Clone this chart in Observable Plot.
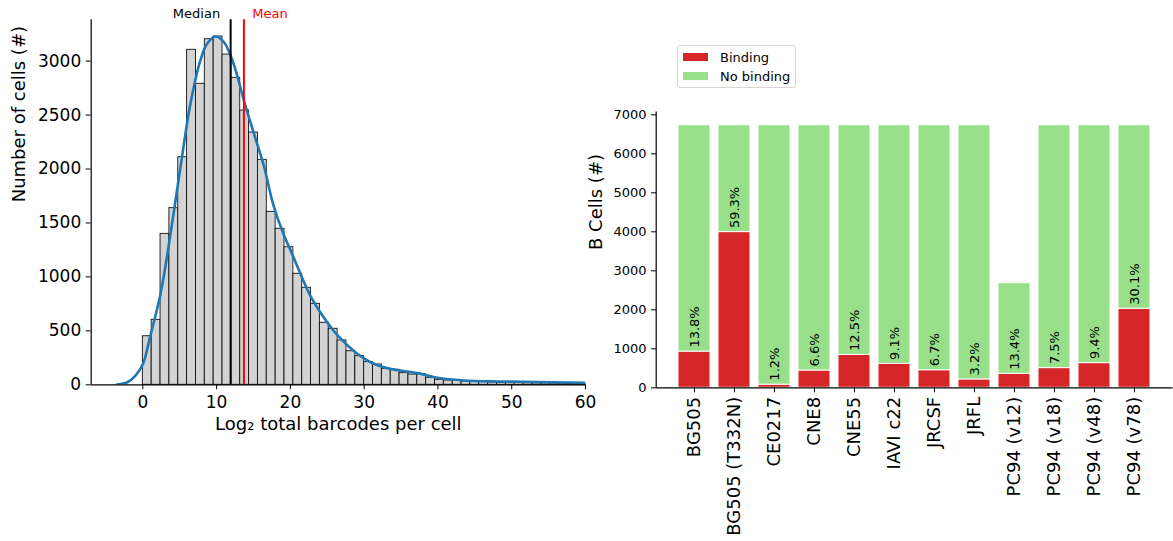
<!DOCTYPE html>
<html><head><meta charset="utf-8">
<script src="https://cdn.jsdelivr.net/npm/d3@7"></script>
<script src="https://cdn.jsdelivr.net/npm/@observablehq/plot@0.6"></script>
<style>
body{margin:0;background:#fff;font-family:"DejaVu Sans",sans-serif;}
#wrap{position:relative;width:1173px;height:541px;overflow:hidden;background:#fff;}
#left{position:absolute;left:0;top:0;}
#right{position:absolute;left:575px;top:0;}
#legend{position:absolute;left:677px;top:45px;width:119px;height:43px;border:1px solid #d5d5d5;border-radius:3px;background:rgba(255,255,255,0.85);font-size:13px;box-sizing:border-box;color:#000;}
.item{position:absolute;left:5px;height:18px;display:flex;align-items:center;white-space:nowrap;}
.sw{width:25px;height:8px;margin-right:12px;flex:none;}
</style></head><body>
<div id="wrap">
  <div id="left"></div>
  <div id="right"></div>
  <div id="legend">
    <div class="item" style="top:2px"><span class="sw" style="background:#d62728"></span>Binding</div>
    <div class="item" style="top:21px"><span class="sw" style="background:#98df8a"></span>No binding</div>
  </div>
</div>
<script>
// ---------- Left: histogram of log2 total barcodes per cell ----------
const binStart = 0;
const binWidth = 1.2;
const binCounts = [450, 602, 1399, 1637, 2109, 3105, 2790, 3203, 3228, 3061,
  2845, 2542, 2338, 2085, 1603, 1446, 1275, 1029, 899, 751,
  575, 519, 411, 311, 265, 210, 188, 148, 139, 108,
  95, 98, 65, 46, 40, 37, 31, 28, 25, 22,
  19, 19, 16, 15, 14, 13, 12, 11, 10, 10];
const kdeX = [-3.5, -2.1, -1.0, 0, 1.0, 2.4, 3.75, 5.1, 6.45, 7.8, 8.7, 9.85, 11.0, 12.3, 13.7, 15.0, 16.4, 17.7, 19.1, 20.0, 21.6, 22.8, 24.5, 26.4, 28.8, 31.3, 33.5, 37.2, 39.9, 43.5, 48.0, 51.6, 60];
const kdeY = [3, 24, 86, 190, 450, 843, 1399, 2017, 2604, 3006, 3160, 3228, 3175, 2975, 2635, 2341, 2030, 1665, 1390, 1250, 990, 812, 626, 457, 302, 195, 148, 108, 65, 40, 31, 28, 19];
const medianVal = 11.9;
const meanVal = 13.7;
const histXTicks = [0, 10, 20, 30, 40, 50, 60];
const histYTicks = [0, 500, 1000, 1500, 2000, 2500, 3000];

// ---------- Right: stacked bars of B cells ----------
const strains = ["BG505", "BG505 (T332N)", "CE0217", "CNE8", "CNE55", "IAVI c22", "JRCSF", "JRFL", "PC94 (v12)", "PC94 (v18)", "PC94 (v48)", "PC94 (v78)"];
const totalCells = [6733, 6733, 6733, 6733, 6733, 6733, 6733, 6733, 2682, 6733, 6733, 6733];
const bindingCells = [929, 3993, 81, 444, 842, 613, 451, 215, 359, 505, 633, 2027];
const barYTicks = [0, 1000, 2000, 3000, 4000, 5000, 6000, 7000];

const bins = binCounts.map((c, i) => ({x1: binStart + i * binWidth, x2: binStart + (i + 1) * binWidth, count: c}));
const kde = kdeX.map((x, i) => ({x, y: kdeY[i]}));
const bars = strains.map((s, i) => ({
  strain: s, total: totalCells[i], binding: bindingCells[i],
  pct: (bindingCells[i] / totalCells[i] * 100).toFixed(1) + "%"
}));

const font = "DejaVu Sans";

const left = Plot.plot({
  width: 600, height: 450,
  marginLeft: 90.7, marginRight: 15, marginTop: 19.3, marginBottom: 65.7,
  style: {fontFamily: font, background: "transparent", color: "black", overflow: "visible"},
  x: {domain: [-7, 60]},
  y: {domain: [0, 3383]},
  marks: [
    Plot.rectY(bins, {x1: "x1", x2: "x2", y: "count", fill: "#d3d3d3", stroke: "#111", strokeWidth: 0.9}),
    Plot.line(kde, {x: "x", y: "y", stroke: "#1f77b4", strokeWidth: 2.6, curve: "catmull-rom", clip: true}),
    Plot.ruleX([medianVal], {stroke: "black", strokeWidth: 2}),
    Plot.ruleX([meanVal], {stroke: "red", strokeWidth: 2}),
    Plot.text([{x: medianVal, t: "Median"}], {x: "x", text: "t", frameAnchor: "top", lineAnchor: "bottom", textAnchor: "end", dx: -10.5, dy: -1.5, fontSize: 13, fill: "black"}),
    Plot.text([{x: meanVal, t: "Mean"}], {x: "x", text: "t", frameAnchor: "top", lineAnchor: "bottom", textAnchor: "start", dx: 8.3, dy: -1.5, fontSize: 13, fill: "red"}),
    Plot.ruleX([-7], {stroke: "black", strokeWidth: 1.2}),
    Plot.ruleY([0], {stroke: "black", strokeWidth: 1.2}),
    Plot.axisX({ticks: histXTicks, tickSize: 5, tickPadding: 6, fontSize: 17, label: null, tickFormat: "d"}),
    Plot.axisY({ticks: histYTicks, tickSize: 5, tickPadding: 5, fontSize: 17, label: null, tickFormat: "d"}),
    Plot.text(["Log₂ total barcodes per cell"], {text: d => d, frameAnchor: "bottom", lineAnchor: "bottom", dy: 44.7, fontSize: 18}),
    Plot.text(["Number of cells (#)"], {text: d => d, frameAnchor: "left", rotate: -90, dx: -72.2, fontSize: 18})
  ]
});
document.getElementById("left").appendChild(left);

const right = Plot.plot({
  width: 598, height: 541,
  marginLeft: 81, marginRight: 0.4, marginTop: 111.6, marginBottom: 153.7,
  style: {fontFamily: font, background: "transparent", color: "black", overflow: "visible"},
  x: {domain: strains, paddingInner: 0.2, paddingOuter: 0.5575},
  y: {domain: [0, 7070]},
  marks: [
    Plot.barY(bars, {x: "strain", y1: 0, y2: "binding", fill: "#d62728", stroke: "white", strokeWidth: 1}),
    Plot.barY(bars, {x: "strain", y1: "binding", y2: "total", fill: "#98df8a", stroke: "white", strokeWidth: 1}),
    Plot.text(bars, {x: "strain", y: "binding", text: "pct", rotate: -90, textAnchor: "start", dy: -4, fontSize: 13, fill: "black"}),
    Plot.ruleY([0], {stroke: "black", strokeWidth: 1.2}),
    Plot.ruleX([strains[0]], {stroke: "black", strokeWidth: 1.2, dx: -38.3}),
    Plot.axisX({tickRotate: -90, tickSize: 5, tickPadding: 4, fontSize: 18, label: null}),
    Plot.axisY({ticks: barYTicks, tickSize: 5, tickPadding: 5, fontSize: 13, label: null, tickFormat: "d"}),
    Plot.text(["B Cells (#)"], {text: d => d, frameAnchor: "left", rotate: -90, dx: -60.3, fontSize: 18})
  ]
});
document.getElementById("right").appendChild(right);
</script>
</body></html>
